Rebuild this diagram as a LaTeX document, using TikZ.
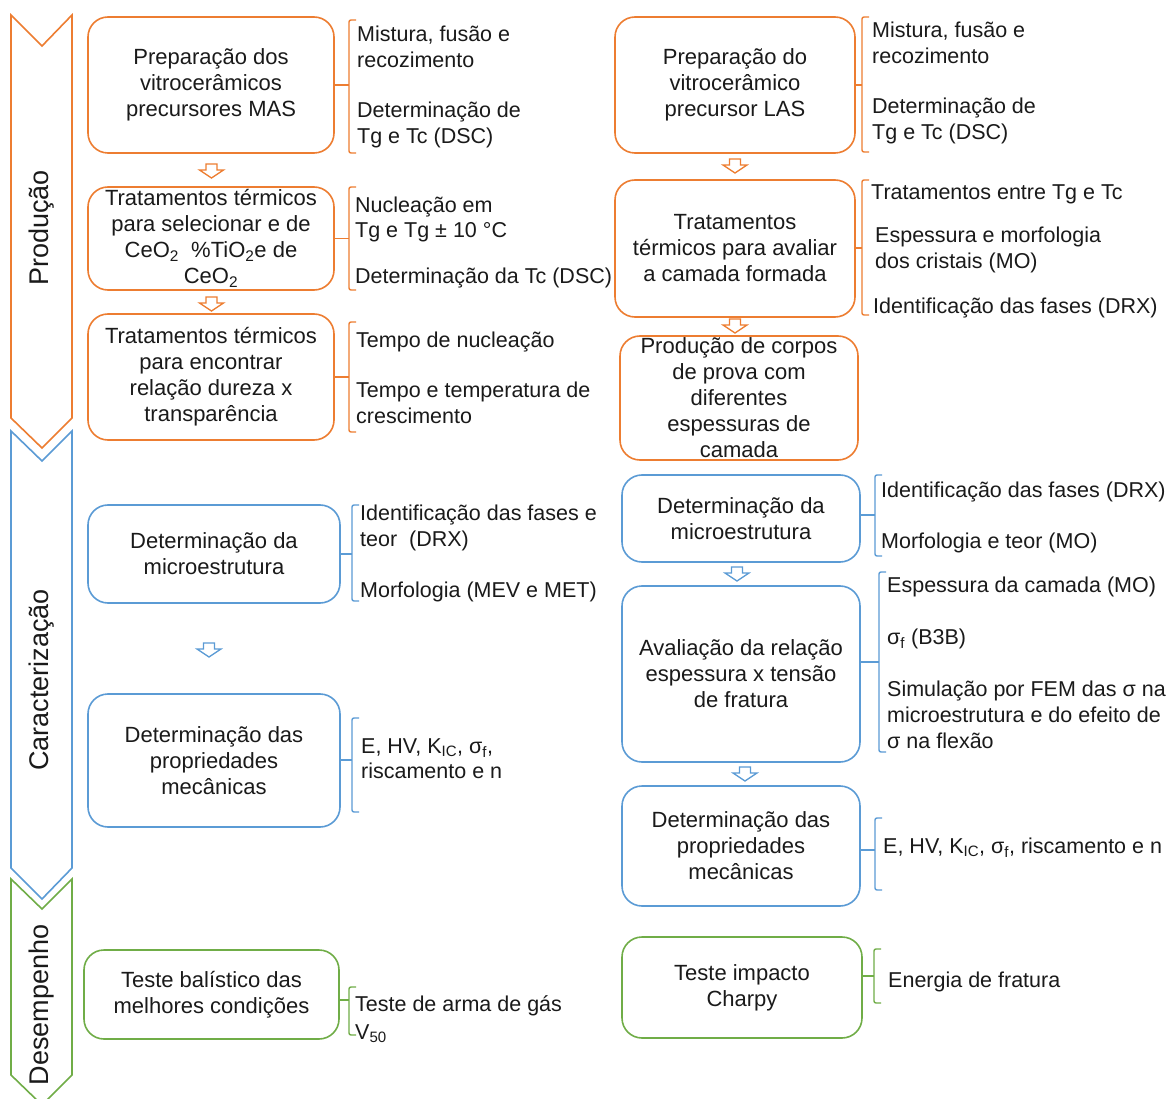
\documentclass[tikz,border=0pt]{standalone}
\usepackage{fontspec}
\setmainfont{Liberation Sans}
\definecolor{cor}{HTML}{ED7D31}
\definecolor{cbl}{HTML}{5B9BD5}
\definecolor{cgr}{HTML}{70AD47}
\definecolor{ctx}{HTML}{1A1A1A}
\newcommand{\mkbracket}[7]{%
  \coordinate (#1t) at (#3,#4);
  \coordinate (#1b) at (#3,#5);
  \coordinate (#1m) at (#3,#6);
  \draw[brk,#2] ([xshift=7pt]#1t) -- (#1t) -- (#1b) -- ([xshift=7pt]#1b);
  \draw[brk,#2] (#7.east |- #1m) -- (#1m);}
\begin{document}
\begin{tikzpicture}[x=1pt,y=-1pt,
  box/.style={draw, line width=1.6pt, rounded corners=20pt, align=center, inner sep=0pt,
    text=ctx, font=\fontsize{22}{26}\selectfont},
  txt/.style={anchor=base west, inner sep=0pt, text=ctx, font=\fontsize{21.5}{26}\selectfont},
  brk/.style={line width=1.4pt, rounded corners=2pt},
  chev/.style={line width=1.6pt},
  side/.style={rotate=90, inner sep=0pt, text=ctx, font=\fontsize{27}{32}\selectfont},
  harrow/.pic={\draw[line width=1.3pt] (-5.5,-7) -- (5.5,-7) -- (5.5,-1) -- (12,-1) -- (0,7) -- (-12,-1) -- (-5.5,-1) -- cycle;}
]
\clip (0,0) rectangle (1168,1099);
\fill[white] (0,0) rectangle (1168,1099);

% chevrons
\draw[chev,cor] (11,15) -- (42,46) -- (72,15) -- (72,418) -- (42,448) -- (11,418) -- cycle;
\draw[chev,cbl] (11,431) -- (42,461) -- (72,431) -- (72,868) -- (42,899) -- (11,868) -- cycle;
\draw[chev,cgr] (11,879) -- (42,909) -- (72,879) -- (72,1075) -- (42,1105) -- (11,1075) -- cycle;
\node[side] (lprod) at (42,228) {Produção};
\node[side] (lcar) at (42,680) {Caracterização};
\node[side] (ldes) at (42,1005) {Desempenho};

% left column boxes
\node[box,draw=cor,minimum width=246pt,minimum height=136pt] (b1) at (211,85) {Preparação dos\\vitrocerâmicos\\precursores MAS};
\node[box,draw=cor,minimum width=246pt,minimum height=103pt] (b2) at (211,238.5) {Tratamentos térmicos\\para selecionar e de\\CeO\textsubscript{2}\ \ \%TiO\textsubscript{2}e de\\CeO\textsubscript{2}};
\node[box,draw=cor,minimum width=246pt,minimum height=126pt] (b3) at (211,377) {Tratamentos térmicos\\para encontrar\\relação dureza x\\transparência};
\node[box,draw=cbl,minimum width=252pt,minimum height=98pt] (b4) at (214,554) {Determinação da\\microestrutura};
\node[box,draw=cbl,minimum width=252pt,minimum height=133pt] (b5) at (214,760.5) {Determinação das\\propriedades\\mecânicas};
\node[box,draw=cgr,minimum width=255pt,minimum height=89pt] (b6) at (211.5,994.5) {Teste balístico das\\melhores condições};

% right column boxes
\node[box,draw=cor,minimum width=240pt,minimum height=136pt] (r1) at (735,85) {Preparação do\\vitrocerâmico\\precursor LAS};
\node[box,draw=cor,minimum width=240pt,minimum height=137pt] (r2) at (735,248.5) {Tratamentos\\térmicos para avaliar\\a camada formada};
\node[box,draw=cor,minimum width=238pt,minimum height=124pt] (r3) at (739,398) {Produção de corpos\\de prova com\\diferentes\\espessuras de\\camada};
\node[box,draw=cbl,minimum width=238pt,minimum height=87pt] (r4) at (741,518.5) {Determinação da\\microestrutura};
\node[box,draw=cbl,minimum width=238pt,minimum height=176pt] (r5) at (741,674) {Avaliação da relação\\espessura x tensão\\de fratura};
\node[box,draw=cbl,minimum width=238pt,minimum height=120pt] (r6) at (741,846) {Determinação das\\propriedades\\mecânicas};
\node[box,draw=cgr,minimum width=240pt,minimum height=101pt] (r7) at (742,987.5) {Teste impacto\\Charpy};

% hollow arrows
\pic[color=cor] at (211.5,171) {harrow};
\pic[color=cor] at (211.5,304) {harrow};
\pic[color=cbl] at (209,650) {harrow};
\pic[color=cor] at (735,166) {harrow};
\pic[color=cor] at (735,326) {harrow};
\pic[color=cbl] at (737,574) {harrow};
\pic[color=cbl] at (745,774) {harrow};

% brackets left
\mkbracket{k1}{cor}{349}{20}{153}{85}{b1}
\mkbracket{k2}{cor}{349}{187}{290}{238.5}{b2}
\mkbracket{k3}{cor}{349}{322}{432}{377}{b3}
\mkbracket{k4}{cbl}{352}{505}{601}{554}{b4}
\mkbracket{k5}{cbl}{352}{718}{812}{760}{b5}
\mkbracket{k6}{cgr}{349}{987}{1035}{1000}{b6}
% brackets right
\mkbracket{q1}{cor}{862}{17}{152}{85}{r1}
\mkbracket{q2}{cor}{862}{180}{315}{248}{r2}
\mkbracket{q4}{cbl}{875}{475}{556}{515}{r4}
\mkbracket{q5}{cbl}{879}{572}{752}{662}{r5}
\mkbracket{q6}{cbl}{875}{818}{890}{850}{r6}
\mkbracket{q7}{cgr}{874}{949}{1003}{976}{r7}

% left texts
\node[txt] (t1) at (357,41.5) {Mistura, fusão e};
\node[txt] (t2) at (357,67.5) {recozimento};
\node[txt] (t3) at (357,117.5) {Determinação de};
\node[txt] (t4) at (357,143.5) {Tg e Tc (DSC)};
\node[txt] (t5) at (355,212.5) {Nucleação em};
\node[txt] (t6) at (355,237.5) {Tg e Tg ± 10 °C};
\node[txt] (t7) at (355,283.5) {Determinação da Tc (DSC)};
\node[txt] (t8) at (356,347.5) {Tempo de nucleação};
\node[txt] (t9) at (356,397.5) {Tempo e temperatura de};
\node[txt] (t10) at (356,423.5) {crescimento};
\node[txt] (t11) at (360,520.5) {Identificação das fases e};
\node[txt] (t12) at (360,546.5) {teor\ \ (DRX)};
\node[txt] (t13) at (360,597.5) {Morfologia (MEV e MET)};
\node[txt] (t14) at (361,753.5) {E, HV, K\textsubscript{IC}, σ\textsubscript{f},};
\node[txt] (t15) at (361,778.5) {riscamento e n};
\node[txt] (t16) at (355,1011.5) {Teste de arma de gás};
\node[txt] (t17) at (355,1039.5) {V\textsubscript{50}};

% right texts
\node[txt] (s1) at (872,37.5) {Mistura, fusão e};
\node[txt] (s2) at (872,63.5) {recozimento};
\node[txt] (s3) at (872,113.5) {Determinação de};
\node[txt] (s4) at (872,139.5) {Tg e Tc (DSC)};
\node[txt] (s5) at (871,199.5) {Tratamentos entre Tg e Tc};
\node[txt] (s6) at (875,242.5) {Espessura e morfologia};
\node[txt] (s7) at (875,268.5) {dos cristais (MO)};
\node[txt] (s8) at (873,313.5) {Identificação das fases (DRX)};
\node[txt] (s9) at (881,497.5) {Identificação das fases (DRX)};
\node[txt] (s10) at (881,548.5) {Morfologia e teor (MO)};
\node[txt] (s11) at (887,592.5) {Espessura da camada (MO)};
\node[txt] (s12) at (887,644.5) {σ\textsubscript{f} (B3B)};
\node[txt] (s13) at (887,696.5) {Simulação por FEM das σ na};
\node[txt] (s14) at (887,722.5) {microestrutura e do efeito de};
\node[txt] (s15) at (887,748.5) {σ na flexão};
\node[txt] (s16) at (883,853.5) {E, HV, K\textsubscript{IC}, σ\textsubscript{f}, riscamento e n};
\node[txt] (s17) at (888,987.5) {Energia de fratura};
\end{tikzpicture}
\end{document}
